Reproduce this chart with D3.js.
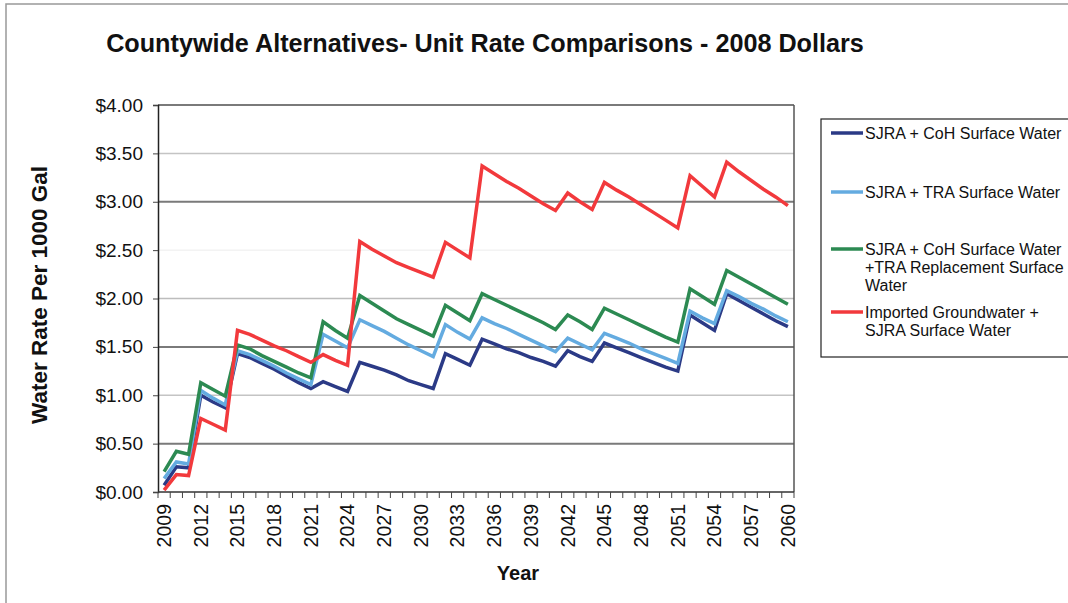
<!DOCTYPE html>
<html><head><meta charset="utf-8">
<script src="https://cdn.jsdelivr.net/npm/d3@7/dist/d3.min.js"></script>
<style>
body{margin:0;background:#fff;}
text{font-family:Arial,"Liberation Sans",Helvetica,sans-serif;fill:#111;}
</style>
</head><body>
<svg id="chart" width="1068" height="603"></svg>
<script>
const years = [2009,2010,2011,2012,2013,2014,2015,2016,2017,2018,2019,2020,2021,2022,2023,2024,2025,2026,2027,2028,2029,2030,2031,2032,2033,2034,2035,2036,2037,2038,2039,2040,2041,2042,2043,2044,2045,2046,2047,2048,2049,2050,2051,2052,2053,2054,2055,2056,2057,2058,2059,2060];
const tickYears = [2009,2012,2015,2018,2021,2024,2027,2030,2033,2036,2039,2042,2045,2048,2051,2054,2057,2060];
const yTicks = [0,0.5,1,1.5,2,2.5,3,3.5,4];

const sjraCoh = [0.07,0.26,0.25,1.00,0.93,0.87,1.43,1.39,1.33,1.27,1.20,1.13,1.07,1.14,1.09,1.04,1.34,1.30,1.26,1.21,1.15,1.11,1.07,1.43,1.37,1.31,1.58,1.53,1.48,1.44,1.39,1.35,1.30,1.46,1.40,1.35,1.54,1.49,1.44,1.39,1.34,1.29,1.25,1.83,1.75,1.67,2.05,1.98,1.91,1.84,1.77,1.71];
const sjraTra = [0.14,0.31,0.29,1.05,0.97,0.90,1.46,1.42,1.36,1.30,1.23,1.17,1.11,1.63,1.56,1.49,1.78,1.72,1.66,1.59,1.52,1.46,1.40,1.73,1.65,1.58,1.80,1.74,1.69,1.63,1.57,1.51,1.45,1.59,1.53,1.47,1.64,1.59,1.54,1.48,1.43,1.38,1.33,1.87,1.80,1.74,2.08,2.02,1.95,1.89,1.82,1.76];
const sjraCohTra = [0.21,0.42,0.39,1.13,1.06,0.99,1.52,1.48,1.41,1.35,1.29,1.23,1.18,1.76,1.67,1.59,2.03,1.95,1.87,1.79,1.73,1.67,1.61,1.93,1.85,1.77,2.05,1.99,1.93,1.87,1.81,1.75,1.68,1.83,1.76,1.68,1.90,1.84,1.78,1.72,1.66,1.60,1.55,2.10,2.02,1.94,2.29,2.22,2.15,2.08,2.01,1.94];
const importedGw = [0.02,0.18,0.17,0.76,0.70,0.64,1.67,1.63,1.57,1.51,1.46,1.40,1.34,1.42,1.36,1.31,2.59,2.51,2.44,2.37,2.32,2.27,2.22,2.58,2.50,2.42,3.37,3.29,3.21,3.14,3.06,2.98,2.91,3.09,3.00,2.92,3.20,3.12,3.05,2.97,2.89,2.81,2.73,3.27,3.16,3.05,3.41,3.31,3.22,3.13,3.05,2.96];

const seriesNames = ["SJRA + CoH Surface Water","SJRA + TRA Surface Water","SJRA + CoH Surface Water\n+TRA Replacement Surface\nWater","Imported Groundwater +\nSJRA Surface Water"];
const seriesColors = ["#2b3a86","#64abe0","#2c8a52","#f2393c"];
const seriesData = [sjraCoh, sjraTra, sjraCohTra, importedGw];

const svg = d3.select("#chart");
const L = 158, R = 794, T = 105, B = 492;

// outer frame
svg.append("rect").attr("x",6).attr("y",4).attr("width",1100).attr("height",640)
  .attr("fill","none").attr("stroke","#999").attr("stroke-width",1.5);

const x = d3.scaleBand().domain(years).range([L,R]).padding(0);
const y = d3.scaleLinear().domain([0,4]).range([B,T]);

// gridlines
const gridStyle = {4:["#7a7a7a",2],3.5:["#c4c4c4",1.5],3:["#7a7a7a",2],2.5:["#ececec",1],2:["#bdbdbd",1.5],1.5:["#7a7a7a",2],1:["#c4c4c4",1.5],0.5:["#7a7a7a",2]};
svg.append("g").selectAll("line").data(yTicks.filter(v=>v>0)).join("line")
  .attr("x1",L).attr("x2",R).attr("y1",d=>y(d)).attr("y2",d=>y(d))
  .attr("stroke",d=>gridStyle[d][0]).attr("stroke-width",d=>gridStyle[d][1]);

// right border of plot
svg.append("line").attr("x1",R).attr("x2",R).attr("y1",T).attr("y2",B).attr("stroke","#555").attr("stroke-width",1.5);

// y axis
const yAxis = d3.axisLeft(y).tickValues(yTicks).tickSize(5).tickPadding(10).tickFormat(d3.format("$.2f"));
const gy = svg.append("g").attr("transform",`translate(${L},0)`).call(yAxis);
gy.select(".domain").attr("stroke","#222").attr("stroke-width",1.5);
gy.selectAll(".tick line").attr("stroke","#444");
gy.selectAll("text").style("font-size","19px").attr("fill","#111");

// x axis (ticks at category boundaries)
const gx = svg.append("g").attr("transform",`translate(0,${B})`);
gx.append("line").attr("x1",L).attr("x2",R).attr("stroke","#333").attr("stroke-width",1.5);
const boundaries = years.map(yr=>x(yr)).concat([x(years[years.length-1])+x.bandwidth()]);
gx.selectAll("line.tk").data(boundaries).join("line").attr("class","tk")
  .attr("x1",d=>d).attr("x2",d=>d).attr("y1",0).attr("y2",6).attr("stroke","#444");
gx.selectAll("text").data(tickYears).join("text")
  .attr("transform",d=>`translate(${x(d)+x.bandwidth()/2},12) rotate(-90)`)
  .attr("text-anchor","end").attr("dy","0.35em")
  .style("font-size","19.5px").text(d=>d);

// lines
const line = d3.line().x((d,i)=>x(years[i])+x.bandwidth()/2).y(d=>y(d));
svg.append("g").selectAll("path").data(seriesData).join("path")
  .attr("d",d=>line(d)).attr("fill","none")
  .attr("stroke",(d,i)=>seriesColors[i]).attr("stroke-width",3.5)
  .attr("stroke-linejoin","miter");

// titles
svg.append("text").attr("x",485).attr("y",52).attr("text-anchor","middle")
  .style("font-size","25.2px").style("font-weight","bold").text("Countywide Alternatives- Unit Rate Comparisons - 2008 Dollars");
svg.append("text").attr("transform","translate(47,295) rotate(-90)").attr("text-anchor","middle")
  .style("font-size","22.5px").style("font-weight","bold").text("Water Rate Per 1000 Gal");
svg.append("text").attr("x",518).attr("y",580).attr("text-anchor","middle")
  .style("font-size","20px").style("font-weight","bold").text("Year");

// legend
const lg = svg.append("g");
lg.append("rect").attr("x",821).attr("y",119).attr("width",260).attr("height",238)
  .attr("fill","#fff").attr("stroke","#222").attr("stroke-width",1.2);
const legY = [133,192,249,312];
seriesNames.forEach((name,i)=>{
  lg.append("line").attr("x1",831).attr("x2",863).attr("y1",legY[i]).attr("y2",legY[i])
    .attr("stroke",seriesColors[i]).attr("stroke-width",3.5);
  const t = lg.append("text").attr("x",865).attr("y",legY[i]).style("font-size","16px");
  name.split("\n").forEach((ln,j)=>{
    t.append("tspan").attr("x",865).attr("dy", j===0 ? "0.35em" : "1.15em").text(ln);
  });
});
</script>
</body></html>
